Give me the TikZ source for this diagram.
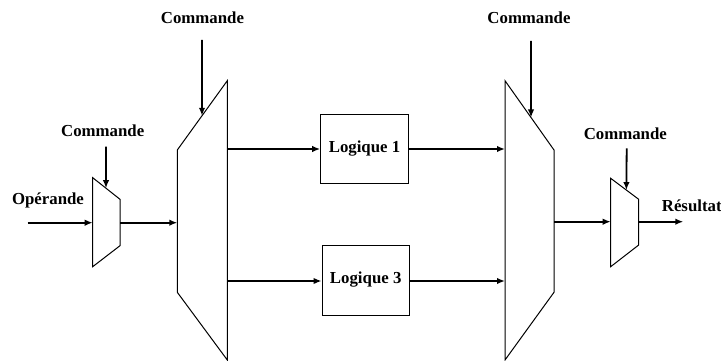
\documentclass[tikz,border=0pt]{standalone}
\usepackage{fontspec}
\setmainfont{Liberation Serif}
\usetikzlibrary{arrows.meta,calc}
\begin{document}
\begin{tikzpicture}[x=1pt,y=-1pt,
  lbl/.style={font=\fontsize{16.8}{20}\selectfont\bfseries, inner sep=0pt},
  logicbox/.style={draw, line width=1pt, inner sep=0pt, font=\fontsize{16.8}{20}\selectfont\bfseries},
  muxshape/.style={draw, line width=1pt, line join=miter},
  sig/.style={line width=1.8pt, -{Latex[length=8pt,width=6.5pt]}},
]
\useasboundingbox (0,0) rectangle (721,361);

% small mux 1
\coordinate (a1) at (92.7,177.7);
\coordinate (a2) at (120,199.3);
\coordinate (a3) at (120,245.7);
\coordinate (a4) at (92.7,266.7);
\draw[muxshape] (a1) -- (a2) -- (a3) -- (a4) -- cycle;

% big mux 1
\coordinate (b1) at (177.3,150);
\coordinate (b2) at (227.3,80.7);
\coordinate (b3) at (227.3,360);
\coordinate (b4) at (177.3,292.3);
\draw[muxshape] (b1) -- (b2) -- (b3) -- (b4) -- cycle;

% big mux 2
\coordinate (c1) at (505,80.7);
\coordinate (c2) at (554,150);
\coordinate (c3) at (554,292.3);
\coordinate (c4) at (505,360);
\draw[muxshape] (c1) -- (c2) -- (c3) -- (c4) -- cycle;

% small mux 2
\coordinate (d1) at (610.7,178.3);
\coordinate (d2) at (638.7,199.3);
\coordinate (d3) at (638.7,245);
\coordinate (d4) at (610.7,266.7);
\draw[muxshape] (d1) -- (d2) -- (d3) -- (d4) -- cycle;

% logic boxes
\node[logicbox, minimum width=87.6pt, minimum height=69.3pt] (L1) at (364.5,148.7) {Logique 1};
\node[logicbox, minimum width=87.3pt, minimum height=70pt] (L3) at (365.7,280) {Logique 3};

% labels
\node[lbl] (op) at (48,200) {Opérande};
\node[lbl] (cm1) at (102.7,131) {Commande};
\node[lbl] (cmA) at (202.5,18) {Commande};
\node[lbl] (cmB) at (529,18) {Commande};
\node[lbl] (cm2) at (625.3,133.3) {Commande};
\node[lbl, anchor=base west] (res) at (661.7,211.5) {Résultat};

% signal coordinates
\coordinate (opin) at (27.7,222.7);
\coordinate (a1in) at (92.7,222.7);
\coordinate (a1out) at (120,222.7);
\coordinate (b1in) at (177.3,222.7);
\coordinate (b1o1) at (227.3,149);
\coordinate (b1o3) at (227.3,281);
\coordinate (c1i1) at (505,149);
\coordinate (c1i3) at (505,281);
\coordinate (c1out) at (554,221.7);
\coordinate (d1in) at (610.7,221.7);
\coordinate (d1out) at (638.7,221.7);
\coordinate (resend) at (683.3,221.7);

\coordinate (k1) at (106,146.7);
\coordinate (kA) at (202,40);
\coordinate (kB) at (531,41);
\coordinate (k2) at (626.7,148.3);

% data arrows
\draw[sig] (opin) -- (a1in);
\draw[sig] (a1out) -- (b1in);
\draw[sig] (b1o1) -- (L1.west |- b1o1);
\draw[sig] (b1o3) -- (L3.west |- b1o3);
\draw[sig] (L1.east |- c1i1) -- (c1i1);
\draw[sig] (L3.east |- c1i3) -- (c1i3);
\draw[sig] (c1out) -- (d1in);
\draw[sig] (d1out) -- (resend);

% command arrows
\draw[sig] (k1) -- ($(a1)!0.487!(a2)$);
\draw[sig] (kA) -- ($(b1)!0.494!(b2)$);
\draw[sig] (kB) -- ($(c1)!0.531!(c2)$);
\draw[sig] (k2) -- ($(d1)!0.56!(d2)$);
\end{tikzpicture}
\end{document}
